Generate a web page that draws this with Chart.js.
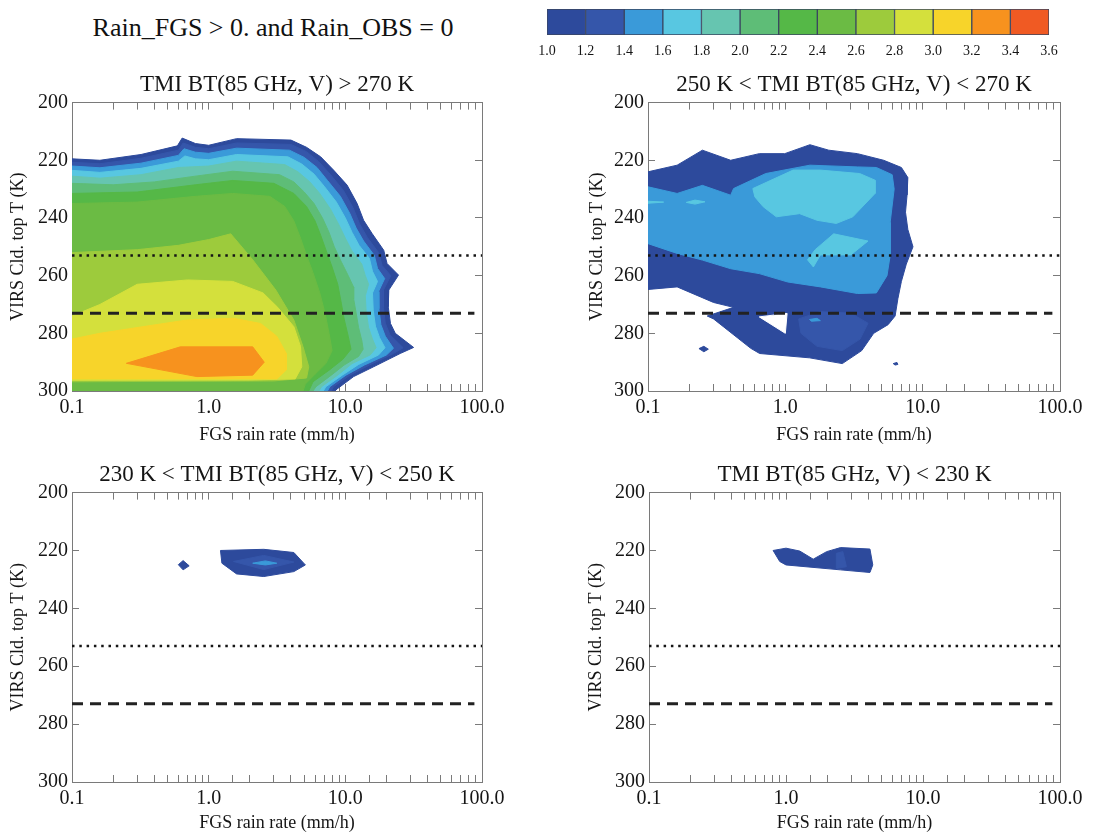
<!DOCTYPE html>
<html>
<head>
<meta charset="utf-8">
<script src="https://cdn.jsdelivr.net/npm/chart.js@4.4.1/dist/chart.umd.min.js"></script>
<style>
  body { margin: 0; background: #fff; width: 1117px; height: 834px; position: relative; overflow: hidden; }
  canvas { position: absolute; }
  #mainTitle {
    position: absolute; left: 0; top: 13px; width: 546px; text-align: center;
    font: 26px 'Liberation Serif', 'Times New Roman', serif; line-height: 30px; color: #111;
  }
</style>
</head>
<body>
<div id="mainTitle">Rain_FGS &gt; 0. and Rain_OBS = 0</div>
<canvas id="cbar" width="560" height="62" style="left:520px;top:0px"></canvas>
<canvas id="p1" width="545" height="391" style="left:0px;top:55px"></canvas>
<canvas id="p2" width="557" height="391" style="left:560px;top:55px"></canvas>
<canvas id="p3" width="545" height="389" style="left:0px;top:445px"></canvas>
<canvas id="p4" width="557" height="389" style="left:560px;top:445px"></canvas>
<script>
// --- colour scale ---
const levelValues = [1.0, 1.2, 1.4, 1.6, 1.8, 2.0, 2.2, 2.4, 2.6, 2.8, 3.0, 3.2, 3.4, 3.6];
const levelColors = ['#2d4a9c', '#3556aa', '#3a9ad9', '#58c7e1', '#66c5b0', '#5ebd77', '#55b847',
                     '#6bbb44', '#9dcb3c', '#d4e03c', '#f7d42a', '#f7921e', '#f05a23'];

// --- axes ---
const rainTicks = [0.1, 1, 10, 100];            // FGS rain rate (mm/h), log axis
const tempTicks = [200, 220, 240, 260, 280, 300]; // VIRS cloud top T (K)
const dottedLineT = 253;
const dashedLineT = 273;

// --- contour outlines [rain rate, cloud top T], one array per filled level ---
// panel 1: TMI BT > 270 K
const p1Lev10 = [[0.1,219.5],[0.16,220],[0.32,218],[0.59,215],[0.64,212.3],[0.8,214.2],[1.0,214.8],[1.6,212.5],[4.0,213],[5.2,215.5],[6.6,218.8],[8.2,223.4],[10.3,228.6],[12.2,235],[13.6,240.8],[15.7,245.4],[19.1,251.2],[20.2,255.8],[24.5,259.8],[20.8,265],[20.6,270.8],[21.4,276.6],[23.2,280],[31.6,284.9],[25.2,287],[16.1,291.6],[11.5,295],[8.7,299.3],[8.4,300],[0.1,300]];
const p1Lev12 = [[0.1,220.7],[0.16,221.2],[0.32,219.3],[0.6,216.5],[0.65,214],[0.8,215.5],[1.0,216],[1.6,214],[4.0,214.5],[5.2,217],[6.4,220.5],[7.8,225],[9.7,230.5],[11.4,236.5],[12.7,242],[14.5,246.8],[17.5,252],[18.6,256.5],[21.5,260],[19,265],[19,271],[19.6,276.5],[21.2,280.5],[26.5,285],[22.5,287],[15,291],[10.8,294.5],[8.2,298.5],[7.9,300],[0.1,300]];
const p1Lev14 = [[0.1,222],[0.16,222.6],[0.32,221],[0.6,218.3],[0.66,216],[0.8,217.2],[1.0,217.6],[1.6,215.8],[3.9,216.5],[5.0,219],[6.2,222.5],[7.4,227],[9.2,232.5],[10.8,238.5],[12.0,243.5],[13.6,248],[16.3,253],[17.2,257.5],[19.4,261],[17.5,265.5],[17.6,271.5],[18.2,277],[19.6,281],[22.5,285.2],[20,287.5],[13.8,291],[10.1,294.5],[7.7,298.5],[7.4,300],[0.1,300]];
const p1Lev16 = [[0.1,223.5],[0.16,224.2],[0.32,222.8],[0.6,220.3],[0.67,218.5],[0.8,219.5],[1.0,219.8],[1.6,218],[3.8,218.8],[4.8,221.3],[5.9,224.8],[7.0,229],[8.6,234.5],[10.0,240],[11.2,245],[12.6,249.5],[15,254],[15.8,258.5],[17.2,262],[15.8,266],[16,272],[16.6,277.5],[17.8,281.5],[19.5,285],[17.5,287.5],[12.5,290.8],[9.5,294.5],[7.2,298.5],[6.9,300],[0.1,300]];
const p1Lev18 = [[0.1,225.5],[0.16,226.2],[0.32,225],[0.6,222.5],[1.0,222],[1.6,220.3],[3.6,221.5],[4.5,224],[5.5,227.5],[6.5,231.5],[7.8,237],[9.0,242.5],[10.0,247],[11.2,251.5],[13.2,256],[14,260],[14.8,263],[14,267],[14.2,272.5],[14.8,278],[15.8,282],[16.8,285],[15.2,287.5],[11.2,290.5],[8.8,294.5],[6.7,298.5],[6.4,300],[0.1,300]];
const p1Lev20 = [[0.1,228],[0.2,228.5],[0.4,227.5],[0.8,225.5],[1.5,223.8],[3.3,225],[4.2,227.5],[5.0,231],[5.9,235],[6.8,240],[7.6,245],[8.3,250],[9.3,255],[10.5,260],[11.5,264],[11.5,268],[12,273],[12.5,278],[13.2,282.5],[13.5,285.5],[12.5,288],[9.8,291],[7.9,294.5],[6.1,298.5],[5.8,300],[0.1,300]];
const p1Lev22 = [[0.1,231.5],[0.3,231],[0.8,228.5],[1.5,227],[3.0,228],[4.2,231.5],[5.2,236],[6.0,241],[6.6,246],[7.2,251],[8.0,257],[8.8,263],[9.3,269],[9.8,275],[10.5,281],[11,285.5],[9.6,289],[7.6,292.8],[5.8,296.8],[5.4,300],[0.1,300]];
const p1Lev24 = [[0.1,235],[0.3,234.5],[0.8,232.5],[1.5,231.5],[2.8,232.5],[3.6,236],[4.2,241],[4.7,247],[5.2,253],[5.8,259],[6.5,266],[7.1,273],[7.6,280],[8.0,286],[7.2,290.5],[6.0,294.2],[5.1,297.6],[4.9,300],[0.1,300]];
const p1Lev26 = [[0.1,252],[0.3,251],[0.6,249.5],[1.0,247.5],[1.45,245.5],[2.1,254.5],[3.1,265],[4.2,275.4],[4.9,284.6],[5.4,291.6],[5.2,295.5],[3.0,296.5],[0.1,296.8]];
const p1Lev28 = [[0.1,274],[0.16,270],[0.3,263],[0.7,261.5],[1.5,262],[2.5,266],[3.2,271],[4.2,277.7],[4.7,284.6],[4.8,291.6],[4.3,295.8],[2.0,296.2],[0.1,296.3]];
const p1Lev30 = [[0.1,282],[0.16,280],[0.33,277.7],[0.69,275.4],[1.52,274.8],[2.4,276.6],[3.15,281],[3.7,287],[3.7,292.7],[3.15,295.8],[0.1,295.8]];
const p1Lev32 = [[0.25,290.4],[0.62,284.7],[2.1,284.7],[2.55,290],[2.1,294.5],[0.82,295]];

// panel 2: 250 K < TMI BT < 270 K
const p2Lev10 = [[0.1,224],[0.163,221.7],[0.249,216.5],[0.4,220],[0.646,217.7],[0.99,217.7],[1.51,214.6],[2.07,216.5],[3.35,217.7],[5.2,220],[7.0,222.5],[7.8,226],[7.7,232],[7.5,238],[7.8,244],[8.5,250],[7.6,256],[7.0,262],[6.6,268],[6.3,274],[5.6,277],[4.4,280],[3.6,286],[2.6,290.5],[1.5,288.5],[0.65,287],[0.56,285.2],[0.3,275],[0.27,274],[0.42,271],[0.3,269.3],[0.163,263.9],[0.1,264.8]];
const p2Lev10b = [[0.235,285.3],[0.255,284.5],[0.275,285.5],[0.255,286.4]];
const p2Lev10c = [[6.1,290.5],[6.5,290.1],[6.6,290.8],[6.3,291]];
const p2Hole = [[0.646,274.3],[1.03,273.1],[1.0,280]];
const p2Lev12 = [[1.25,275],[1.8,272.5],[3.0,273],[4.0,276.5],[3.5,282],[2.6,286],[1.7,284.5],[1.3,280]];
const p2Lev14 = [[0.1,229.2],[0.163,231.5],[0.249,228.7],[0.4,232.1],[0.42,229.8],[0.72,224.6],[1.51,221.7],[3.35,222.3],[4.6,222.5],[6.0,225],[6.2,230],[5.8,241.5],[5.8,253],[5.5,260],[4.6,266],[3.35,266.2],[1.8,263.9],[1.04,262.2],[0.646,259.3],[0.4,257.6],[0.249,254.6],[0.163,252.3],[0.1,248.9]];
const p2Lev14b = [[1.5,275.2],[1.7,274.8],[1.8,275.6],[1.55,275.8]];
const p2Lev16 = [[0.6,232.7],[0.58,229.8],[1.14,223.4],[1.79,223.4],[3.48,224.6],[4.5,226.9],[4.5,231.5],[3.1,239.6],[2.35,241.9],[1.7,240.8],[1.27,238.5],[0.86,239.6],[0.69,236.1]];
const p2Lev16b = [[1.65,251],[2.25,245.5],[4.0,248],[3.0,252.8],[1.8,252.8],[1.6,257],[1.45,254.5]];
const p2Lev16c = [[0.1,234.2],[0.13,234.5],[0.1,234.9]];
const p2Lev16d = [[0.19,234.6],[0.22,233.8],[0.26,234.4],[0.22,235.2]];

// panel 3: 230 K < TMI BT < 250 K
const p3Lev10 = [[1.22,220],[2.53,219.6],[4.2,220.7],[5.1,225],[4.2,227.3],[2.53,229],[1.6,228.1],[1.25,224.4]];
const p3Lev10b = [[0.6,224.9],[0.65,223.5],[0.72,225.3],[0.65,226.7]];
const p3Lev12 = [[1.52,223.8],[2.53,221.7],[4.2,224],[2.53,226.6]];
const p3Lev14 = [[2.1,224.4],[2.6,223.6],[3.15,224.4],[2.6,225]];

// panel 4: TMI BT < 230 K
const p4Lev10 = [[0.805,220],[1.0,219.2],[1.26,220.2],[1.58,223],[1.98,220.4],[2.5,219],[4.1,219.5],[4.3,225],[4.1,227.6],[2.5,226.7],[1.0,225],[0.9,223.8]];
const p4Lev12 = [[2.33,221],[2.6,220.4],[2.76,225.6],[2.33,226.2]];

// drawing order: bottom first; null level = background (hole)
const panel1Contours = [[1.0,p1Lev10],[1.2,p1Lev12],[1.4,p1Lev14],[1.6,p1Lev16],[1.8,p1Lev18],[2.0,p1Lev20],
                        [2.2,p1Lev22],[2.4,p1Lev24],[2.6,p1Lev26],[2.8,p1Lev28],[3.0,p1Lev30],[3.2,p1Lev32]];
const panel2Contours = [[1.0,p2Lev10],[1.0,p2Lev10b],[1.0,p2Lev10c],[null,p2Hole],[1.2,p2Lev12],[1.4,p2Lev14],
                        [1.4,p2Lev14b],[1.6,p2Lev16],[1.6,p2Lev16b],[1.6,p2Lev16c],[1.6,p2Lev16d]];
const panel3Contours = [[1.0,p3Lev10],[1.0,p3Lev10b],[1.2,p3Lev12],[1.4,p3Lev14]];
const panel4Contours = [[1.0,p4Lev10],[1.2,p4Lev12]];

const FONT = "'Liberation Serif', 'Times New Roman', serif";
const INK = '#151515';
const AXIS_GRAY = '#7a7a7a';

function colorFor(level) {
  if (level === null) return '#ffffff';
  return levelColors[Math.round((level - levelValues[0]) / 0.2)];
}

function isRainTick(v) {
  return rainTicks.some(t => Math.abs(v / t - 1) < 1e-6);
}

function buildScales(pad) {
  const grid = { drawOnChartArea: false, drawTicks: true, tickLength: -7, color: AXIS_GRAY, tickColor: AXIS_GRAY };
  const border = { display: true, color: AXIS_GRAY, width: 1 };
  return {
    x: {
      type: 'logarithmic', position: 'bottom', min: 0.1, max: 100,
      ticks: { autoSkip: false, maxRotation: 0, padding: 12, color: INK, font: { family: FONT, size: 20 },
               callback: v => isRainTick(v) ? Number(v).toFixed(1) : '' },
      grid, border,
      title: { display: true, text: 'FGS rain rate (mm/h)', color: INK, font: { family: FONT, size: 18 }, padding: 0 },
      afterFit: s => { s.height = pad.xAxisH; }
    },
    xTop: {
      type: 'logarithmic', position: 'top', min: 0.1, max: 100,
      ticks: { display: false, autoSkip: false }, grid, border,
      afterFit: s => { s.height = 0; }
    },
    y: {
      type: 'linear', position: 'left', min: 200, max: 300, reverse: true,
      afterBuildTicks: s => { s.ticks = tempTicks.map(v => ({ value: v })); },
      ticks: { padding: 11, color: INK, font: { family: FONT, size: 20 } },
      grid, border,
      title: { display: true, text: 'VIRS Cld. top T (K)', color: INK, font: { family: FONT, size: 18 }, padding: 0 },
      afterFit: s => { s.width = pad.yAxisW; }
    },
    yRight: {
      type: 'linear', position: 'right', min: 200, max: 300, reverse: true,
      afterBuildTicks: s => { s.ticks = tempTicks.map(v => ({ value: v })); },
      ticks: { display: false }, grid, border,
      afterFit: s => { s.width = 0; }
    }
  };
}

function makePanel(id, title, contours, pad) {
  const n = contours.length;
  const datasets = contours.map(([level, pts], k) => {
    const color = colorFor(level);
    const data = pts.concat([pts[0]]).map(([x, y]) => ({ x, y }));
    return {
      data, showLine: true, fill: 'shape', tension: 0,
      backgroundColor: color, borderColor: color, borderWidth: 1,
      pointRadius: 0, order: n - k + 2
    };
  });
  // 0 degC and -20 degC reference lines
  datasets.push({
    data: [{ x: 0.1, y: dottedLineT }, { x: 100, y: dottedLineT }],
    showLine: true, fill: false, borderColor: INK, borderWidth: 2.5, borderDash: [2.5, 4.8],
    pointRadius: 0, order: 1
  });
  datasets.push({
    data: [{ x: 0.1, y: dashedLineT }, { x: 88, y: dashedLineT }],
    showLine: true, fill: false, borderColor: '#222', borderWidth: 3, borderDash: [11, 7],
    pointRadius: 0, order: 0
  });

  new Chart(document.getElementById(id), {
    type: 'scatter',
    data: { datasets },
    options: {
      responsive: false,
      animation: false,
      events: [],
      layout: { padding: { left: pad.left, right: pad.right, top: 0, bottom: 0 } },
      scales: buildScales(pad),
      plugins: {
        legend: { display: false },
        tooltip: { enabled: false },
        title: {
          display: true, text: title, fullSize: false, color: INK,
          font: { family: FONT, size: 23, weight: 'normal' },
          padding: { top: 16, bottom: 4 }
        }
      }
    }
  });
}

makePanel('p1', 'TMI BT(85 GHz, V) > 270 K', panel1Contours, { left: 7, right: 63, yAxisW: 65, xAxisH: 55 });
makePanel('p2', '250 K < TMI BT(85 GHz, V) < 270 K', panel2Contours, { left: 26, right: 57, yAxisW: 62, xAxisH: 55 });
makePanel('p3', '230 K < TMI BT(85 GHz, V) < 250 K', panel3Contours, { left: 7, right: 63, yAxisW: 65, xAxisH: 52 });
makePanel('p4', 'TMI BT(85 GHz, V) < 230 K', panel4Contours, { left: 25, right: 57, yAxisW: 64, xAxisH: 52 });

// --- colour bar ---
new Chart(document.getElementById('cbar'), {
  type: 'bar',
  data: {
    labels: [''],
    datasets: levelColors.map((c, i) => ({
      data: [[levelValues[i], levelValues[i + 1]]],
      backgroundColor: c, borderColor: '#3a4660', borderWidth: 1, borderSkipped: false,
      grouped: false, barPercentage: 1, categoryPercentage: 1
    }))
  },
  options: {
    indexAxis: 'y',
    responsive: false,
    animation: false,
    events: [],
    layout: { padding: { left: 27, right: 31, top: 9, bottom: 0 } },
    scales: {
      x: {
        type: 'linear', min: levelValues[0], max: levelValues[levelValues.length - 1],
        afterBuildTicks: s => { s.ticks = levelValues.map(v => ({ value: v })); },
        ticks: { padding: 8, color: INK, font: { family: FONT, size: 14 }, callback: v => Number(v).toFixed(1) },
        grid: { display: false, drawTicks: false }, border: { display: false },
        afterFit: s => { s.height = 27; }
      },
      y: { display: false }
    },
    plugins: { legend: { display: false }, tooltip: { enabled: false } }
  }
});
</script>
</body>
</html>
